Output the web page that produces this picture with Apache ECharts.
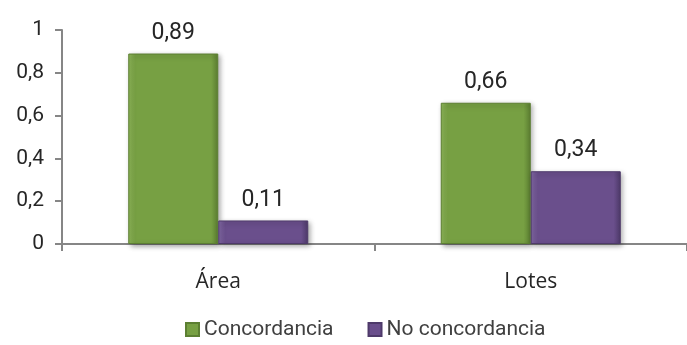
<!DOCTYPE html>
<html>
<head>
<meta charset="utf-8">
<script src="https://cdn.jsdelivr.net/npm/echarts@6/dist/echarts.min.js"></script>
<style>
html,body{margin:0;padding:0;background:#fff;}
#main{width:687px;height:345px;}
</style>
</head>
<body>
<div id="main"></div>
<script>
const categories = ['Área', 'Lotes'];
const seriesNames = ['Concordancia', 'No concordancia'];
const concordancia = [0.89, 0.66];
const noConcordancia = [0.11, 0.34];

const narrow = 'Roboto, "Liberation Sans Narrow", sans-serif';
const fmt = v => String(v).replace('.', ',');

const chart = echarts.init(document.getElementById('main'), null, {renderer: 'canvas'});

function barStyle(main, light, dark) {
  return {
    color: {
      type: 'linear', x: 0, y: 0, x2: 1, y2: 0,
      colorStops: [
        {offset: 0, color: light},
        {offset: 0.08, color: main},
        {offset: 0.92, color: main},
        {offset: 1, color: dark}
      ]
    },
    borderColor: dark,
    borderWidth: 1,
    shadowColor: 'rgba(0,0,0,0.35)',
    shadowBlur: 5,
    shadowOffsetX: 2,
    shadowOffsetY: 2
  };
}

chart.setOption({
  animation: false,
  backgroundColor: '#ffffff',
  grid: {left: 62, top: 30, width: 634, bottom: 101, containLabel: false},
  legend: {
    bottom: 0,
    left: 180,
    itemWidth: 13,
    itemHeight: 13,
    itemGap: 34,
    icon: 'rect',
    textStyle: {fontFamily: narrow, fontSize: 21, color: '#404040', padding: [0, 0, 0, 0]},
    data: seriesNames
  },
  xAxis: {
    type: 'category',
    data: categories,
    axisLine: {lineStyle: {color: '#868686', width: 2}},
    axisTick: {show: true, length: 7, lineStyle: {color: '#868686', width: 2}},
    axisLabel: {margin: 28, fontFamily: '"Open Sans", sans-serif', fontSize: 21, color: '#262626'}
  },
  yAxis: {
    type: 'value',
    min: 0, max: 1, interval: 0.2,
    splitLine: {show: false},
    axisLine: {show: true, lineStyle: {color: '#868686', width: 2}},
    axisTick: {show: true, length: 7, lineStyle: {color: '#868686', width: 2}},
    axisLabel: {margin: 18, fontFamily: narrow, fontSize: 21, color: '#262626', formatter: fmt}
  },
  series: [
    {
      name: seriesNames[0], type: 'bar', data: concordancia,
      barWidth: 90, barGap: '0%',
      itemStyle: barStyle('#77a043', '#8fb85a', '#5c7f32'),
      label: {show: true, position: 'top', distance: 9, fontFamily: narrow, fontSize: 23, color: '#262626', formatter: p => fmt(p.value)}
    },
    {
      name: seriesNames[1], type: 'bar', data: noConcordancia,
      barWidth: 90, barGap: '0%',
      itemStyle: barStyle('#6a4f8c', '#8369a6', '#4e3a6a'),
      label: {show: true, position: 'top', distance: 9, fontFamily: narrow, fontSize: 23, color: '#262626', formatter: p => fmt(p.value)}
    }
  ]
});
</script>
</body>
</html>
